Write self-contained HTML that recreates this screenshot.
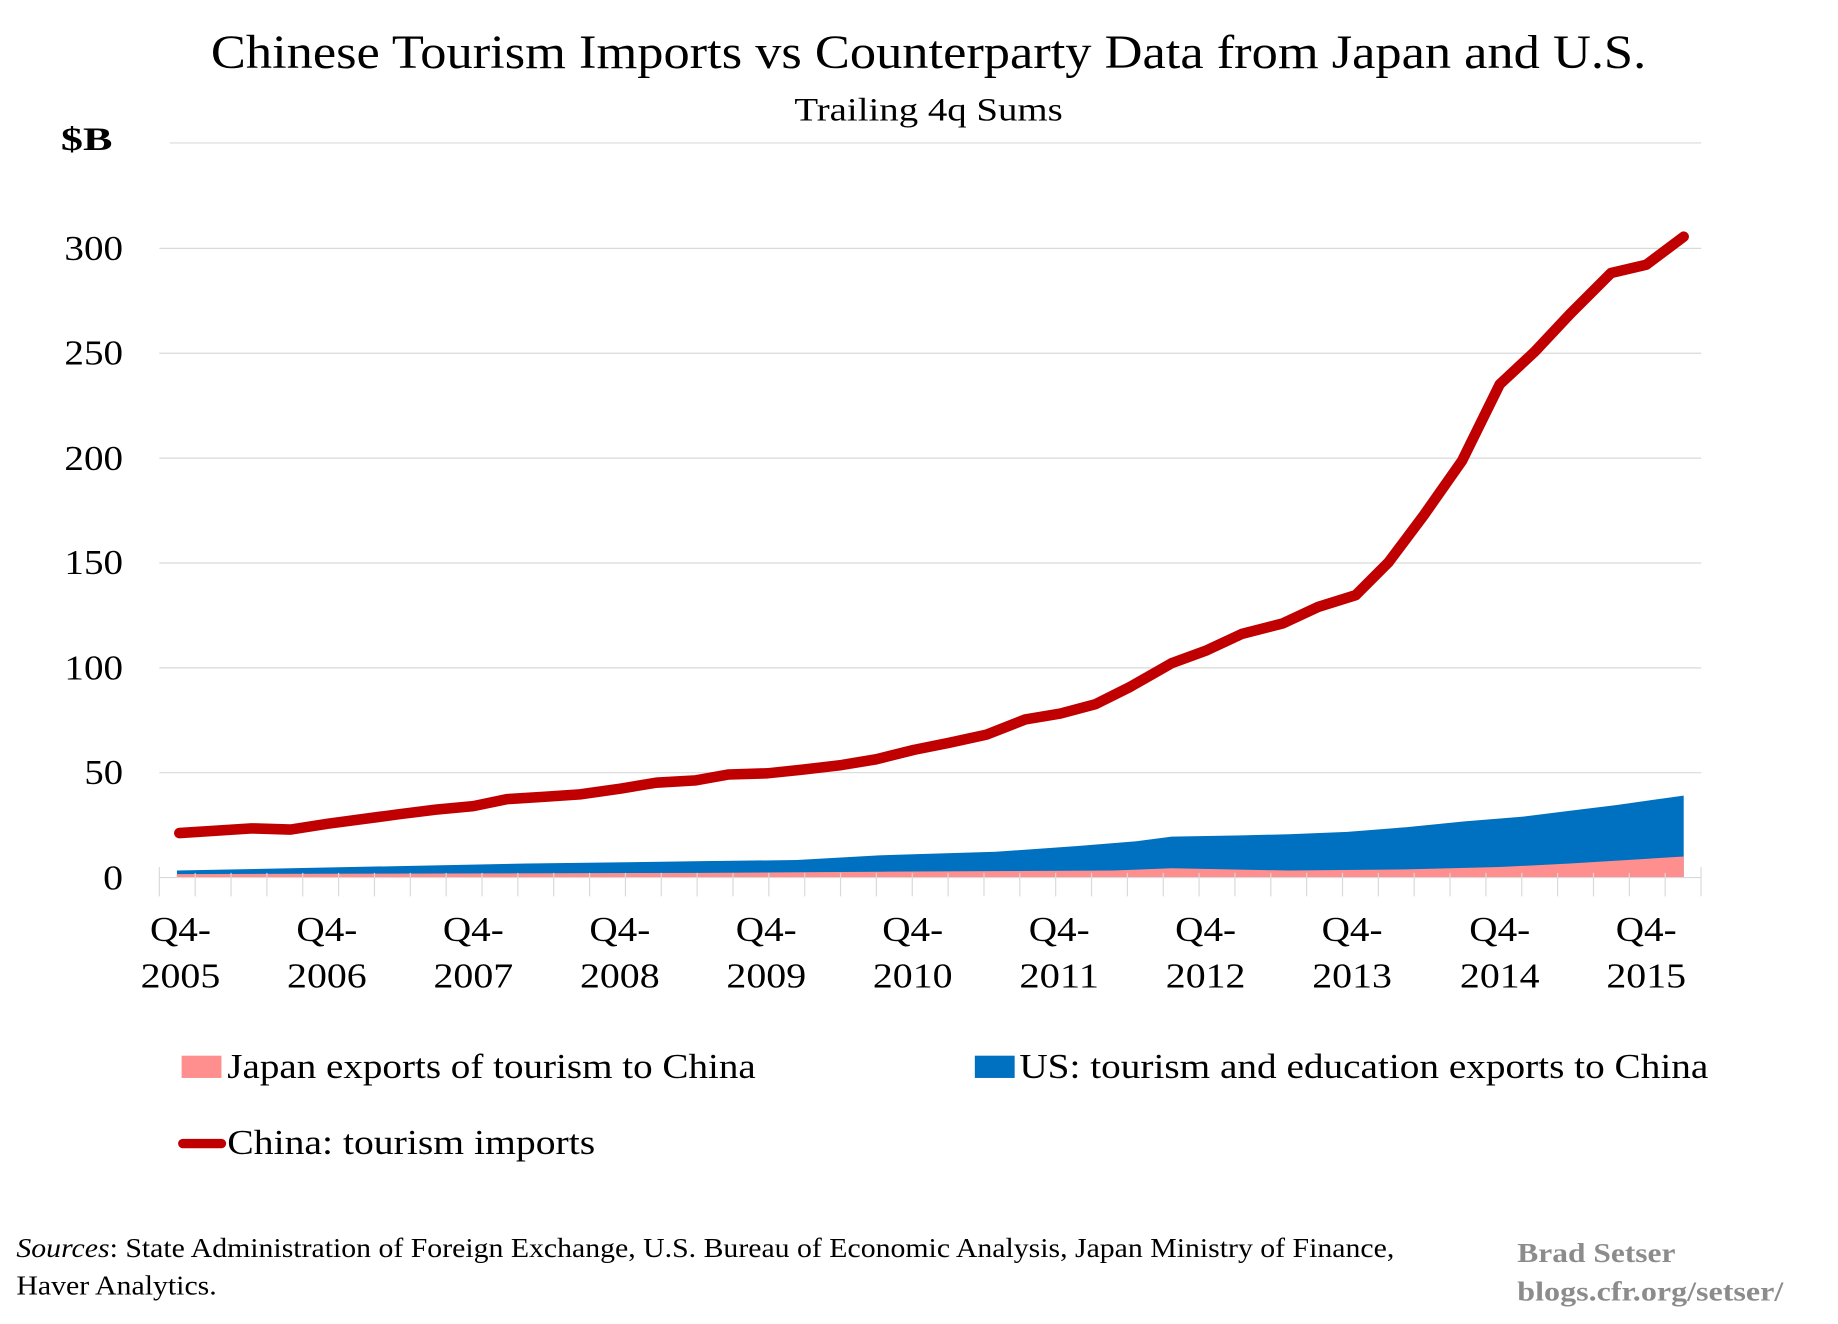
<!DOCTYPE html>
<html><head><meta charset="utf-8"><style>
html,body{margin:0;padding:0;background:#fff;}
svg{display:block;}
text{font-family:"Liberation Serif",serif;fill:#000;}
</style></head><body>
<svg width="1838" height="1324" viewBox="0 0 1568.7 1130" preserveAspectRatio="none" xmlns="http://www.w3.org/2000/svg">
<text x="180" y="58" font-size="41" textLength="1225" lengthAdjust="spacingAndGlyphs">Chinese Tourism Imports vs Counterparty Data from Japan and U.S.</text>
<text x="678" y="103" font-size="28" textLength="229" lengthAdjust="spacingAndGlyphs">Trailing 4q Sums</text>
<text x="52" y="128" font-size="28" font-weight="bold" textLength="44" lengthAdjust="spacingAndGlyphs">$B</text>
<g stroke="#d9d9d9" stroke-width="1">
<line x1="145" y1="122" x2="1452" y2="122"/>
<line x1="136" y1="212" x2="1452" y2="212"/>
<line x1="136" y1="301.5" x2="1452" y2="301.5"/>
<line x1="136" y1="391" x2="1452" y2="391"/>
<line x1="136" y1="480.5" x2="1452" y2="480.5"/>
<line x1="136" y1="570" x2="1452" y2="570"/>
<line x1="136" y1="659.5" x2="1452" y2="659.5"/>
</g>
<g font-size="30" text-anchor="end">
<text x="105" y="222" textLength="50" lengthAdjust="spacingAndGlyphs">300</text>
<text x="105" y="311" textLength="50" lengthAdjust="spacingAndGlyphs">250</text>
<text x="105" y="401" textLength="50" lengthAdjust="spacingAndGlyphs">200</text>
<text x="105" y="490" textLength="50" lengthAdjust="spacingAndGlyphs">150</text>
<text x="105" y="580" textLength="50" lengthAdjust="spacingAndGlyphs">100</text>
<text x="105" y="669" textLength="33" lengthAdjust="spacingAndGlyphs">50</text>
<text x="105" y="759" textLength="17" lengthAdjust="spacingAndGlyphs">0</text>
</g>
<polygon fill="#0070c0" points="151,749 151,743 300,740 450,737 600,735 680,734 750,730 850,727 920,722 970,718 1000,714 1060,713 1100,712 1150,710 1200,706 1250,701 1300,697 1340,692 1380,687 1437,679 1437,749"/>
<polygon fill="#ff8f8f" points="151,749 151,746 600,745 750,744 950,743 1000,741 1100,743 1200,742 1280,740 1340,737 1437,731 1437,749"/>
<line x1="136" y1="749" x2="1452" y2="749" stroke="#d9d9d9" stroke-width="1"/>
<g stroke="#d9d9d9" stroke-width="1">
<line x1="136" y1="740" x2="136" y2="765"/>
<line x1="166.6" y1="745" x2="166.6" y2="765"/><line x1="197.2" y1="745" x2="197.2" y2="765"/><line x1="227.8" y1="745" x2="227.8" y2="765"/><line x1="258.4" y1="745" x2="258.4" y2="765"/><line x1="289" y1="745" x2="289" y2="765"/><line x1="319.6" y1="745" x2="319.6" y2="765"/><line x1="350.2" y1="745" x2="350.2" y2="765"/><line x1="380.8" y1="745" x2="380.8" y2="765"/><line x1="411.4" y1="745" x2="411.4" y2="765"/><line x1="442" y1="745" x2="442" y2="765"/><line x1="472.6" y1="745" x2="472.6" y2="765"/><line x1="503.2" y1="745" x2="503.2" y2="765"/><line x1="533.8" y1="745" x2="533.8" y2="765"/><line x1="564.4" y1="745" x2="564.4" y2="765"/><line x1="595" y1="745" x2="595" y2="765"/><line x1="625.6" y1="745" x2="625.6" y2="765"/><line x1="656.2" y1="745" x2="656.2" y2="765"/><line x1="686.8" y1="745" x2="686.8" y2="765"/><line x1="717.4" y1="745" x2="717.4" y2="765"/><line x1="748" y1="745" x2="748" y2="765"/><line x1="778.6" y1="745" x2="778.6" y2="765"/><line x1="809.2" y1="745" x2="809.2" y2="765"/><line x1="839.8" y1="745" x2="839.8" y2="765"/><line x1="870.4" y1="745" x2="870.4" y2="765"/><line x1="901" y1="745" x2="901" y2="765"/><line x1="931.6" y1="745" x2="931.6" y2="765"/><line x1="962.2" y1="745" x2="962.2" y2="765"/><line x1="992.8" y1="745" x2="992.8" y2="765"/><line x1="1023.4" y1="745" x2="1023.4" y2="765"/><line x1="1054" y1="745" x2="1054" y2="765"/><line x1="1084.6" y1="745" x2="1084.6" y2="765"/><line x1="1115.2" y1="745" x2="1115.2" y2="765"/><line x1="1145.8" y1="745" x2="1145.8" y2="765"/><line x1="1176.4" y1="745" x2="1176.4" y2="765"/><line x1="1207" y1="745" x2="1207" y2="765"/><line x1="1237.6" y1="745" x2="1237.6" y2="765"/><line x1="1268.2" y1="745" x2="1268.2" y2="765"/><line x1="1298.8" y1="745" x2="1298.8" y2="765"/><line x1="1329.4" y1="745" x2="1329.4" y2="765"/><line x1="1360" y1="745" x2="1360" y2="765"/><line x1="1390.6" y1="745" x2="1390.6" y2="765"/><line x1="1421.2" y1="745" x2="1421.2" y2="765"/><line x1="1451.8" y1="740" x2="1451.8" y2="765"/>
</g>
<polyline fill="none" stroke="#c00000" stroke-width="9" stroke-linecap="round" stroke-linejoin="round" points="153,711 215,707 248,708 280,703 310,699 340,695 372,691 404,688 433,682 465,680 495,678 530,673 560,668 594,666 622,661 655,660 684,657 718,653 748,648 780,640 810,634 842,627 875,614 905,609 935,601 965,586 1000,566 1030,555 1060,541 1095,532 1125,518 1157,508 1185,480 1215,440 1248,393 1280,328 1310,300 1340,268 1375,233 1405,226 1437,202"/>
<g font-size="30" text-anchor="middle">
<text x="154" y="803" textLength="52" lengthAdjust="spacingAndGlyphs">Q4-</text><text x="154" y="843" textLength="68" lengthAdjust="spacingAndGlyphs">2005</text>
<text x="279" y="803" textLength="52" lengthAdjust="spacingAndGlyphs">Q4-</text><text x="279" y="843" textLength="68" lengthAdjust="spacingAndGlyphs">2006</text>
<text x="404" y="803" textLength="52" lengthAdjust="spacingAndGlyphs">Q4-</text><text x="404" y="843" textLength="68" lengthAdjust="spacingAndGlyphs">2007</text>
<text x="529" y="803" textLength="52" lengthAdjust="spacingAndGlyphs">Q4-</text><text x="529" y="843" textLength="68" lengthAdjust="spacingAndGlyphs">2008</text>
<text x="654" y="803" textLength="52" lengthAdjust="spacingAndGlyphs">Q4-</text><text x="654" y="843" textLength="68" lengthAdjust="spacingAndGlyphs">2009</text>
<text x="779" y="803" textLength="52" lengthAdjust="spacingAndGlyphs">Q4-</text><text x="779" y="843" textLength="68" lengthAdjust="spacingAndGlyphs">2010</text>
<text x="904" y="803" textLength="52" lengthAdjust="spacingAndGlyphs">Q4-</text><text x="904" y="843" textLength="68" lengthAdjust="spacingAndGlyphs">2011</text>
<text x="1029" y="803" textLength="52" lengthAdjust="spacingAndGlyphs">Q4-</text><text x="1029" y="843" textLength="68" lengthAdjust="spacingAndGlyphs">2012</text>
<text x="1154" y="803" textLength="52" lengthAdjust="spacingAndGlyphs">Q4-</text><text x="1154" y="843" textLength="68" lengthAdjust="spacingAndGlyphs">2013</text>
<text x="1280" y="803" textLength="52" lengthAdjust="spacingAndGlyphs">Q4-</text><text x="1280" y="843" textLength="68" lengthAdjust="spacingAndGlyphs">2014</text>
<text x="1405" y="803" textLength="52" lengthAdjust="spacingAndGlyphs">Q4-</text><text x="1405" y="843" textLength="68" lengthAdjust="spacingAndGlyphs">2015</text>
</g>
<rect x="155" y="901" width="34" height="19" fill="#ff8f8f"/>
<text x="194" y="920" font-size="30" textLength="451" lengthAdjust="spacingAndGlyphs">Japan exports of tourism to China</text>
<rect x="832" y="901" width="34" height="19" fill="#0070c0"/>
<text x="870" y="920" font-size="30" textLength="588" lengthAdjust="spacingAndGlyphs">US: tourism and education exports to China</text>
<line x1="156" y1="976" x2="189" y2="976" stroke="#c00000" stroke-width="8" stroke-linecap="round"/>
<text x="194" y="985" font-size="30" textLength="314" lengthAdjust="spacingAndGlyphs">China: tourism imports</text>
<text x="14" y="1073" font-size="23" textLength="1176" lengthAdjust="spacingAndGlyphs"><tspan font-style="italic">Sources</tspan>: State Administration of Foreign Exchange, U.S. Bureau of Economic Analysis, Japan Ministry of Finance,</text>
<text x="14" y="1105" font-size="23" textLength="171" lengthAdjust="spacingAndGlyphs">Haver Analytics.</text>
<text x="1295" y="1077" font-size="23" font-weight="bold" style="fill:#8c8c8c" textLength="135" lengthAdjust="spacingAndGlyphs">Brad Setser</text>
<text x="1295" y="1110" font-size="23" font-weight="bold" style="fill:#8c8c8c" textLength="227" lengthAdjust="spacingAndGlyphs">blogs.cfr.org/setser/</text>
</svg>
</body></html>
